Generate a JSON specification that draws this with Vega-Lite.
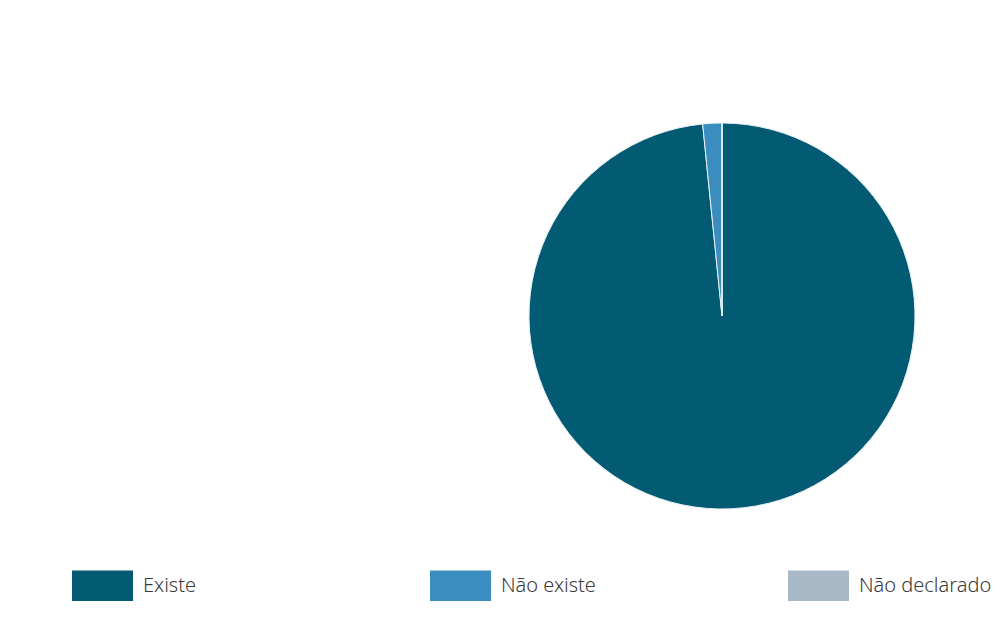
{
  "$schema": "https://vega.github.io/schema/vega-lite/v6.json",
  "width": 386,
  "height": 386,
  "padding": {"left": 529, "top": 123, "right": 91, "bottom": 119},
  "autosize": {"type": "none"},
  "background": "white",
  "config": {"view": {"stroke": null}, "font": "Noto Sans"},
  "data": {
    "values": [
      {"categoria": "Existe", "valor": 98.4, "ordem": 1},
      {"categoria": "Não existe", "valor": 1.6, "ordem": 2},
      {"categoria": "Não declarado", "valor": 0, "ordem": 3}
    ]
  },
  "mark": {"type": "arc", "stroke": "#e8f2f6", "strokeWidth": 1},
  "encoding": {
    "theta": {"field": "valor", "type": "quantitative", "stack": true},
    "order": {"field": "ordem", "type": "quantitative"},
    "color": {
      "field": "categoria",
      "type": "nominal",
      "sort": ["Existe", "Não existe", "Não declarado"],
      "scale": {
        "domain": ["Existe", "Não existe", "Não declarado"],
        "range": ["#035b73", "#3b8dbf", "#a9b8c7"]
      },
      "legend": {
        "title": null,
        "orient": "none",
        "legendX": -457,
        "legendY": 432,
        "direction": "horizontal",
        "columns": 3,
        "gridAlign": "all",
        "columnPadding": 154,
        "symbolType": "M-1,-0.5H1V0.5H-1Z",
        "symbolSize": 3721,
        "symbolStrokeWidth": 0,
        "symbolOpacity": 1,
        "labelFontSize": 20,
        "labelFontWeight": 300,
        "labelColor": "#3a3a3a",
        "labelOffset": 10,
        "labelLimit": 300,
        "labelFont": "Noto Sans"
      }
    }
  }
}
